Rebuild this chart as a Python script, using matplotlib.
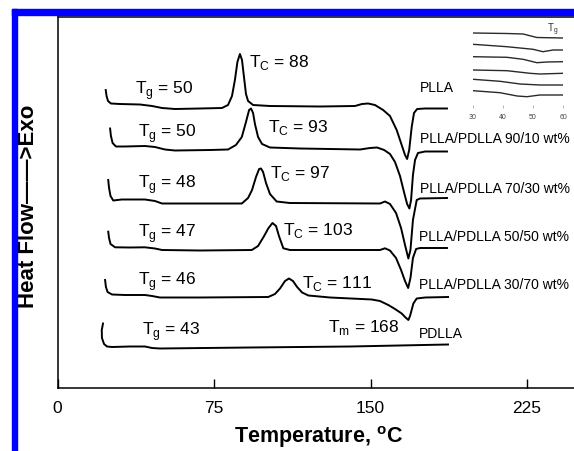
import matplotlib
matplotlib.use('Agg')
import matplotlib.pyplot as plt
from matplotlib.patches import Rectangle

plt.rcParams['font.family'] = ['Liberation Sans', 'DejaVu Sans']
plt.rcParams['mathtext.fontset'] = 'custom'
plt.rcParams['mathtext.rm'] = 'Liberation Sans'

# DSC traces, temperature (C) vs heat flow (arbitrary units, exo up)
T_plla = [23.1, 23.5, 24.2, 25.6, 29.9, 39.5, 45.3, 50.1, 56.3, 68.3, 78.8, 81.7, 83.6, 85.0, 86.2, 87.4,
          88.4, 89.4, 90.3, 91.3, 93.7, 101.8, 125.8, 142.5, 145.9, 148.8, 152.1, 156.0, 159.3, 162.5,
          164.9, 166.5, 167.5, 168.5, 169.7, 170.8, 172.3, 176.1, 186.6]
hf_plla = [298, 292, 287, 284.5, 284, 283.5, 282, 280, 279, 279.5, 280, 283, 292, 308, 326, 334,
           328, 310, 294, 287, 283, 282, 281.5, 282, 284, 284.5, 283, 278, 272, 258,
           243, 233, 229, 238, 261, 275, 279, 279.5, 279.5]

T_9010 = [25.2, 25.6, 26.4, 28.0, 32.3, 41.9, 46.7, 51.5, 56.3, 73.1, 81.7, 85.5, 88.3, 90.3, 91.8, 92.7,
          93.7, 94.6, 96.1, 98.0, 101.8, 116.2, 145.0, 149.7, 153.1, 156.5, 159.3, 161.7, 164.1, 166.0,
          167.5, 168.6, 169.4, 170.3, 171.3, 172.7, 176.1, 186.6]
hf_9010 = [259.5, 252, 245, 241.5, 241.5, 242, 241, 238.5, 237.5, 238, 238.5, 243, 251, 266, 278, 279.5,
           275, 264, 251, 244, 240.5, 239.5, 238.5, 240, 240.5, 238, 234, 226, 212, 196,
           184, 179.5, 188, 213, 228, 235, 236.5, 236.5]

T_7030 = [24.3, 24.7, 25.4, 26.7, 30.8, 41.9, 46.7, 50.1, 68.3, 88.3, 91.3, 93.2, 95.1, 96.6, 97.5, 98.5,
          99.9, 101.8, 105.0, 111.3, 154.5, 156.9, 159.3, 162.2, 164.6, 166.5, 168.1, 169.1, 170.3,
          172.1, 173.7, 186.6]
hf_7030 = [208, 200, 192, 187.5, 188.5, 188.5, 187, 184.5, 184.5, 184.5, 190, 198, 211, 219, 219.5, 216,
           205, 194, 186.5, 185, 184.5, 186.5, 184, 175, 160, 143, 129.5, 138, 168,
           188, 189.5, 190]

T_5050 = [24.3, 24.7, 25.4, 27.6, 34.7, 41.9, 46.7, 50.1, 68.3, 93.1, 96.1, 99.0, 101.0, 103.0, 104.7,
          106.1, 108.2, 111.4, 154.5, 156.9, 159.3, 162.2, 164.6, 166.5, 168.0, 169.1, 170.3, 171.8,
          173.7, 186.6]
hf_5050 = [156.3, 150, 144, 140.7, 140.5, 140.7, 139.5, 138, 137.5, 138, 142, 152, 159.7, 165, 162,
           152, 139.7, 138, 138, 139.7, 137.5, 130, 118, 107, 100, 110, 130, 139,
           140, 140]

T_3070 = [22.8, 23.2, 24.0, 26.1, 32.3, 41.9, 45.3, 49.1, 68.3, 101.0, 104.2, 106.6, 109.0, 110.9, 112.8,
          114.8, 117.2, 120.2, 130.6, 150.6, 154.5, 158.5, 161.7, 164.9, 166.5, 168.1, 168.9, 170.5,
          172.1, 176.1, 187.1]
hf_3070 = [108, 101, 96, 93.5, 93, 93, 92, 90.5, 90.5, 91, 94, 99.5, 107, 109.5, 107,
           101, 95.5, 92.5, 90.5, 88.5, 87, 83, 79, 74.5, 71, 68, 72, 84.5,
           89.5, 90.5, 91]

T_pdlla = [21.8, 21.2, 21.3, 22.3, 23.7, 26.1, 34.7, 41.9, 45.3, 49.1, 92.2, 140.2, 187.1]
hf_pdlla = [64.5, 58, 50, 44, 41.5, 41, 41.5, 41.5, 40, 39.5, 40.5, 41.5, 43.5]

names = ['PLLA', 'PLLA/PDLLA 90/10 wt%', 'PLLA/PDLLA 70/30 wt%',
         'PLLA/PDLLA 50/50 wt%', 'PLLA/PDLLA 30/70 wt%', 'PDLLA']
Tg = [50, 50, 48, 47, 46, 43]
Tc = [88, 93, 97, 103, 111]
Tm = 168

# inset: glass transition region
T_ins = [[30, 41.3, 46.7, 51.3, 60],
         [30, 41.3, 50, 53.3, 56.7, 60],
         [30, 41.3, 46.7, 51.3, 54.7, 60],
         [30, 41.3, 49, 52.3, 60],
         [30, 39, 45.7, 52.3, 60],
         [30, 39, 44.7, 48, 52.3, 60]]
hf_ins = [[75, 74.5, 74, 70.5, 70],
          [63.7, 61.3, 58.7, 56.3, 58, 58],
          [51.3, 50.7, 48.7, 45.3, 46, 46.3],
          [38, 37.3, 34.7, 34, 34.7],
          [28.7, 26.7, 24, 23, 23],
          [17.3, 15.3, 12, 11.3, 13, 13]]

fig = plt.figure(figsize=(5.74, 4.51), dpi=100)
W, H = 574, 451
ax = fig.add_axes([57.5 / W, 1 - 387.5 / H, (579.3 - 57.5) / W, (387.5 - 17) / H])

traces = [(T_plla, hf_plla), (T_9010, hf_9010), (T_7030, hf_7030),
          (T_5050, hf_5050), (T_3070, hf_3070), (T_pdlla, hf_pdlla)]
for t, h in traces:
    ax.plot(t, h, color='black', lw=1.4, solid_joinstyle='round')

ax.set_xlim(0, 250)
ax.set_ylim(0.5, 371)
ax.set_xticks([0, 75, 150, 225])
ax.set_yticks([])
ax.tick_params(axis='x', direction='in', length=6.5, width=1, labelsize=12.5, pad=10)
ax.spines['right'].set_visible(False)
for s in ['left', 'top', 'bottom']:
    ax.spines[s].set_linewidth(1.1)

fs = 12.5
# Tg labels
tg_pos = [(37.1, 294), (38.7, 250.7), (38.7, 199.7), (38.7, 151.3), (38.7, 103), (40.3, 53)]
for (x, y), v in zip(tg_pos, Tg):
    ax.text(x, y, r'T$_\mathregular{g}$ = %d' % v, fontsize=fs, va='baseline')
# Tc labels
tc_pos = [(91.8, 321.3), (100.9, 256.3), (101.8, 209.7), (108.0, 153), (117.2, 100)]
for (x, y), v in zip(tc_pos, Tc):
    ax.text(x, y, r'T$_\mathregular{C}$ = %d' % v, fontsize=fs, va='baseline')
ax.text(129.6, 56.3, r'T$_\mathregular{m}$ = %d' % Tm, fontsize=fs, va='baseline')
# sample names
nm_pos = [(173.7, 296), (173.7, 244.7), (173.7, 194.7), (173.3, 147), (173.3, 99), (172.9, 50.5)]
for (x, y), n in zip(nm_pos, names):
    ax.text(x, y, n, fontsize=10, va='baseline', clip_on=False)

# inset
axi = fig.add_axes([473 / W, 1 - 108 / H, 90 / W, 80 / H])
for t, h in zip(T_ins, hf_ins):
    axi.plot(t, h, color='#2a2a2a', lw=1.0)
axi.set_xlim(30, 60)
axi.set_ylim(0, 80)
axi.set_xticks([30, 40, 50, 60])
axi.set_yticks([])
axi.tick_params(axis='x', direction='in', length=2, width=0.6, color='#aaaaaa',
                labelsize=5, labelcolor='#444444', pad=4)
for s in axi.spines.values():
    s.set_visible(False)
axi.patch.set_alpha(0)
axi.text(54.7, 78, r'T$_\mathregular{g}$', fontsize=7, color='#333333', va='center')

fig.text(0.555, 1 - 443.5 / H, r'Temperature, $^\mathregular{o}$C', fontsize=15.5, fontweight='bold',
         ha='center', va='baseline')
fig.text(29 / W, 1 - 206 / H, 'Heat Flow\u2014\u2014>Exo', fontsize=16, fontweight='bold',
         rotation=90, ha='center', va='center')

# blue frame
fig.patches.append(Rectangle((11.7 / W, 0), 5 / W, 1 - 9.3 / H, transform=fig.transFigure,
                             color='#0000ff', zorder=5))
fig.patches.append(Rectangle((11.7 / W, 1 - 15 / H), 1, 5.7 / H, transform=fig.transFigure,
                             color='#0000ff', zorder=5))

fig.savefig('out.png', dpi=100)
